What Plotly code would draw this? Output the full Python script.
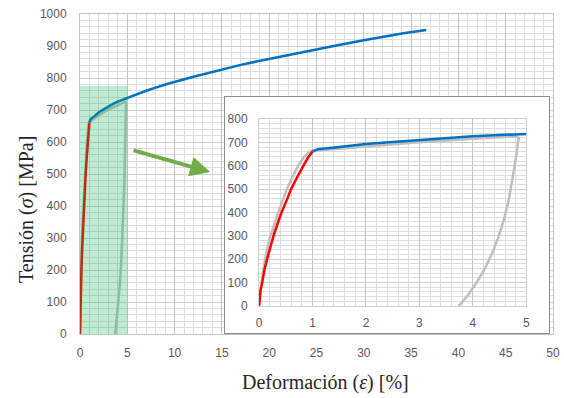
import plotly.graph_objects as go

# Elastic loading branch (red)
load_strain = [0, 0.03, 0.06, 0.10, 0.15, 0.21, 0.27, 0.35, 0.42, 0.52, 0.60, 0.72, 0.83, 0.91, 1.00]
load_stress = [0, 69, 100, 154, 200, 254, 300, 354, 400, 454, 500, 554, 600, 633, 661]

# Plastic hardening branch (blue)
hard_strain = [1.00, 1.05, 1.1, 1.5, 2.0, 2.5, 3.0, 3.5, 4.0, 4.5, 5.0, 6.0, 7.0, 8.0, 9.3,
               12.0, 14.5, 17.0, 19.7, 22.0, 24.9, 27.5, 30.0, 32.0, 34.2, 36.6]
hard_stress = [661, 666, 671, 680, 693, 702, 711, 719, 726, 732, 737, 749, 760, 770, 782,
               804, 823, 841, 858, 872, 889, 904, 918, 929, 940, 950]

# Experimental load/unload cycle (grey)
exp_strain = [0, 0.03, 0.08, 0.13, 0.20, 0.28, 0.36, 0.44, 0.52, 0.62, 0.73, 0.85, 0.95,
              1.2, 1.5, 2.0, 3.0, 4.0, 4.6, 4.8, 4.86, 4.84, 4.82, 4.76, 4.67, 4.58, 4.48,
              4.36, 4.21, 4.06, 3.91, 3.78, 3.73]
exp_stress = [0, 70, 150, 220, 290, 350, 400, 450, 500, 550, 600, 640, 662,
              667, 673, 684, 701, 716, 724, 726, 718, 700, 654, 569, 454, 369, 297,
              226, 154, 97, 47, 11, 0]

main_x_ticks = list(range(0, 51, 5))
main_y_ticks = list(range(0, 1001, 100))
zoom_x_ticks = list(range(0, 6))
zoom_y_ticks = list(range(0, 801, 100))

RED = "#ff0000"
BLUE = "#0070c0"
GREY = "#bfbfbf"
TICK_FONT = dict(family="Liberation Sans", size=12, color="#595959")
TITLE_FONT = dict(family="Liberation Serif", size=20, color="#262626")

fig = go.Figure()

for xa, ya in (("x", "y"), ("x3", "y3")):
    fig.add_trace(go.Scatter(x=exp_strain, y=exp_stress, mode="lines",
                             line=dict(color=GREY, width=2.5), xaxis=xa, yaxis=ya,
                             showlegend=False, hoverinfo="skip"))
    fig.add_trace(go.Scatter(x=load_strain, y=load_stress, mode="lines",
                             line=dict(color=RED, width=2.5), xaxis=xa, yaxis=ya,
                             showlegend=False))
    fig.add_trace(go.Scatter(x=hard_strain, y=hard_stress, mode="lines",
                             line=dict(color=BLUE, width=2.5), xaxis=xa, yaxis=ya,
                             showlegend=False))

# empty trace that owns the white frame behind the zoomed view
fig.add_trace(go.Scatter(x=[None], y=[None], xaxis="x2", yaxis="y2",
                         showlegend=False, hoverinfo="skip"))

fig.update_layout(
    width=564, height=398,
    margin=dict(l=80, r=4, t=14, b=64),
    paper_bgcolor="white", plot_bgcolor="white",
    showlegend=False,
    xaxis=dict(range=[0, 50], tickvals=main_x_ticks, showgrid=True,
               gridcolor="#c4c4c4", gridwidth=1,
               minor=dict(dtick=1, showgrid=True, gridcolor="#dedede", gridwidth=1),
               zeroline=False, showline=True, mirror=True, linecolor="#c4c4c4",
               ticks="", ticklabelstandoff=8, tickfont=TICK_FONT),
    yaxis=dict(range=[0, 1000], tickvals=main_y_ticks, showgrid=True,
               gridcolor="#cfcfcf", gridwidth=1,
               minor=dict(dtick=20, showgrid=True, gridcolor="#dedede", gridwidth=1),
               zeroline=False, showline=True, mirror=True, linecolor="#c4c4c4",
               ticks="", ticklabelstandoff=10, tickfont=TICK_FONT),
    # white frame of the zoomed view
    xaxis2=dict(domain=[0.30625, 0.99167], anchor="y2", range=[0, 1],
                showgrid=False, zeroline=False, showticklabels=False,
                showline=True, mirror=True, linecolor="#8c8c8c", linewidth=1),
    yaxis2=dict(domain=[0.003125, 0.740625], anchor="x2", range=[0, 1],
                showgrid=False, zeroline=False, showticklabels=False,
                showline=True, mirror=True, linecolor="#8c8c8c", linewidth=1),
    # zoomed view of the first 5 %
    xaxis3=dict(domain=[0.3785, 0.94375], anchor="y3", range=[0, 5],
                tickvals=zoom_x_ticks, showgrid=True, gridcolor="#c4c4c4",
                minor=dict(dtick=0.2, showgrid=True, gridcolor="#dedede"),
                zeroline=False, showline=True, mirror=True, linecolor="#cfcfcf",
                ticks="", ticklabelstandoff=6, tickfont=TICK_FONT),
    yaxis3=dict(domain=[0.0875, 0.671875], anchor="x3", range=[0, 800],
                tickvals=zoom_y_ticks, showgrid=True, gridcolor="#cfcfcf",
                minor=dict(dtick=20, showgrid=True, gridcolor="#dedede"),
                zeroline=False, showline=True, mirror=True, linecolor="#cfcfcf",
                ticks="", ticklabelstandoff=8, tickfont=TICK_FONT),
)

# highlighted region that is magnified
fig.add_shape(type="rect", xref="x", yref="y", x0=0, x1=5, y0=0, y1=775,
              fillcolor="rgba(0,176,80,0.25)", line=dict(width=0), layer="above")

# arrow pointing to the zoomed view
fig.add_annotation(xref="x", yref="y", axref="x", ayref="y",
                   x=13.75, y=506, ax=5.5, ay=575, text="",
                   showarrow=True, arrowhead=2, arrowsize=1, arrowwidth=4,
                   arrowcolor="#70ad47")

# axis titles
fig.add_annotation(xref="paper", yref="paper", x=0.519, y=-0.153,
                   text="Deformación (<i>ε</i>) [%]", showarrow=False,
                   font=TITLE_FONT, xanchor="center", yanchor="middle")
fig.add_annotation(xref="paper", yref="paper", x=-0.1146, y=0.39,
                   text="Tensión (<i>σ</i>) [MPa]", showarrow=False, textangle=-90,
                   font=TITLE_FONT, xanchor="center", yanchor="middle")

fig.write_html("out.html")
